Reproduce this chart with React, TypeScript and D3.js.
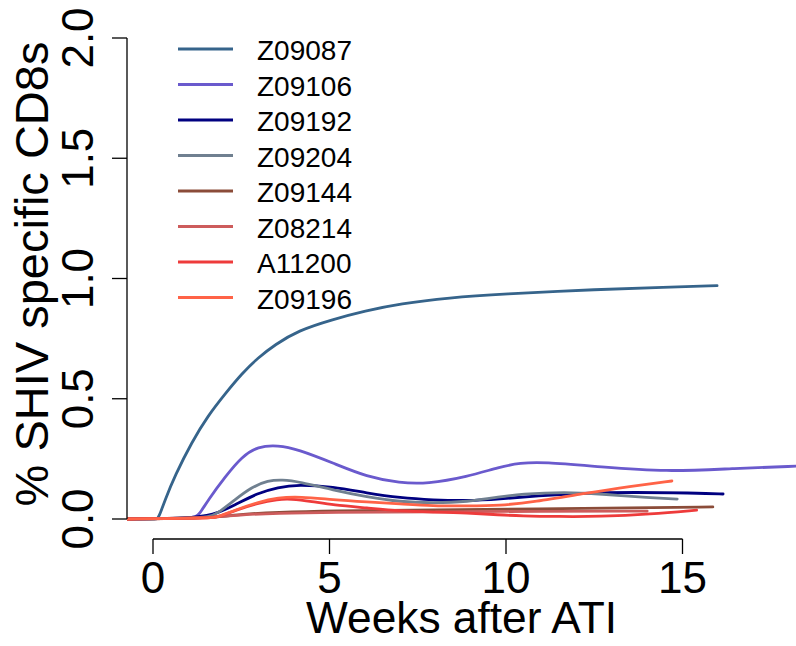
import React from "react";
import * as d3 from "d3";

// ---- Data ----
const seriesNames = ["Z09087", "Z09106", "Z09192", "Z09204", "Z09144", "Z08214", "A11200", "Z09196"];
const seriesColors = ["#36648B", "#6A5ACD", "#000080", "#708090", "#8B4C39", "#CD5C5C", "#EE3B3B", "#FF6347"];

const weeksZ09087 = [-0.75, 0.0, 0.1, 0.16, 0.34, 0.62, 1.1, 1.56, 2.04, 2.52, 2.97, 3.46, 4.1, 5.1, 6.0, 7.0, 8.4, 9.83, 12.66, 14.5, 15.98];
const valsZ09087 = [0, 0, 0, 0.004, 0.079, 0.18, 0.32, 0.43, 0.52, 0.605, 0.67, 0.725, 0.783, 0.83, 0.865, 0.895, 0.92, 0.935, 0.955, 0.964, 0.97];

const weeksZ09106 = [-0.75, 0.5, 1.0, 1.2, 1.3, 1.56, 2.04, 2.52, 2.97, 3.54, 4.1, 5.1, 6.06, 7.0, 7.76, 8.9, 9.83, 10.4, 11.05, 12.66, 14.56, 16.4, 18.3];
const valsZ09106 = [0, 0.002, 0.004, 0.008, 0.016, 0.079, 0.175, 0.26, 0.302, 0.307, 0.29, 0.233, 0.175, 0.15, 0.146, 0.175, 0.217, 0.233, 0.237, 0.217, 0.196, 0.21, 0.22];

const weeksZ09192 = [-0.75, 1.0, 1.7, 2.32, 2.97, 3.54, 4.1, 5.1, 6.06, 7.0, 7.93, 8.9, 9.83, 10.77, 12.66, 15.5, 16.15];
const valsZ09192 = [0, 0.003, 0.015, 0.058, 0.108, 0.132, 0.143, 0.134, 0.108, 0.088, 0.079, 0.075, 0.083, 0.095, 0.113, 0.108, 0.104];

const weeksZ09204 = [-0.75, 1.0, 1.6, 1.84, 2.32, 2.8, 3.26, 3.65, 4.16, 5.1, 6.06, 7.0, 7.93, 8.9, 9.83, 10.4, 11.7, 12.66, 14.08, 14.85];
const valsZ09204 = [0, 0.003, 0.008, 0.024, 0.08, 0.133, 0.16, 0.164, 0.155, 0.12, 0.092, 0.071, 0.067, 0.071, 0.092, 0.104, 0.113, 0.104, 0.088, 0.083];

const weeksZ09144 = [-0.75, 1.0, 1.84, 2.5, 3.5, 5.0, 8.0, 11.0, 13.5, 15.86];
const valsZ09144 = [0, 0.003, 0.008, 0.02, 0.028, 0.034, 0.038, 0.042, 0.047, 0.05];

const weeksZ08214 = [-0.75, 1.0, 1.84, 2.5, 3.5, 5.0, 8.0, 11.0, 14.0];
const valsZ08214 = [0, 0.003, 0.008, 0.018, 0.024, 0.028, 0.03, 0.032, 0.033];

const weeksA11200 = [-0.75, 1.0, 1.6, 1.84, 2.32, 2.97, 3.54, 3.9, 4.5, 5.1, 6.06, 7.0, 7.93, 8.9, 9.83, 10.4, 11.5, 12.66, 14.1, 15.4];
const valsA11200 = [0, 0.003, 0.004, 0.008, 0.035, 0.066, 0.082, 0.084, 0.073, 0.058, 0.046, 0.033, 0.029, 0.025, 0.017, 0.013, 0.01, 0.01, 0.02, 0.037];

const weeksZ09196 = [-0.75, 1.0, 1.6, 1.84, 2.32, 2.97, 3.54, 4.16, 5.1, 6.06, 7.0, 7.93, 8.9, 9.83, 10.77, 12.3, 13.5, 14.7];
const valsZ09196 = [0, 0.003, 0.004, 0.008, 0.037, 0.07, 0.089, 0.093, 0.08, 0.071, 0.063, 0.054, 0.054, 0.056, 0.07, 0.108, 0.135, 0.158];

const seriesWeeks = [weeksZ09087, weeksZ09106, weeksZ09192, weeksZ09204, weeksZ09144, weeksZ08214, weeksA11200, weeksZ09196];
const seriesVals = [valsZ09087, valsZ09106, valsZ09192, valsZ09204, valsZ09144, valsZ08214, valsA11200, valsZ09196];

const xTicks = [0, 5, 10, 15];
const yTicks = [0, 0.5, 1, 1.5, 2];
const yTickLabels = ["0.0", "0.5", "1.0", "1.5", "2.0"];
const xTitle = "Weeks after ATI";
const yTitle = "% SHIV specific CD8s";

export default function App() {
  const W = 796;
  const H = 646;
  const x = d3.scaleLinear().domain([0, 15]).range([153, 682.5]);
  const y = d3.scaleLinear().domain([0, 2]).range([519, 38]);
  const plotLeft = 127;
  const plotTop = 19;
  const plotBottom = 538.5;
  const font = "'Liberation Sans', Arial, Helvetica, sans-serif";

  const line = d3
    .line<[number, number]>()
    .x((d) => x(d[0]))
    .y((d) => y(d[1]))
    .curve(d3.curveBasis);

  const legendX1 = 178;
  const legendX2 = 233;
  const legendY0 = 49;
  const legendStep = 35.5;

  return (
    <svg
      width={W}
      height={H}
      style={{ position: "absolute", left: 0, top: 0, background: "#fff" }}
      fontFamily={font}
    >
      <defs>
        <clipPath id="plotClip">
          <rect x={plotLeft} y={plotTop} width={W - plotLeft} height={plotBottom - plotTop} />
        </clipPath>
      </defs>
      <rect x={0} y={0} width={W} height={H} fill="#fff" />

      {/* series */}
      <g clipPath="url(#plotClip)">
        {seriesNames.map((name, i) => {
          const pts: [number, number][] = seriesWeeks[i].map((w, j) => [w, seriesVals[i][j]]);
          return (
            <path
              key={name}
              d={line(pts) || ""}
              fill="none"
              stroke={seriesColors[i]}
              strokeWidth={2.8}
              strokeLinecap="round"
              strokeLinejoin="round"
            />
          );
        })}
      </g>

      {/* y axis */}
      <line x1={plotLeft} x2={plotLeft} y1={y(0)} y2={y(2)} stroke="#000" strokeWidth={1.3} />
      {yTicks.map((t, i) => (
        <g key={t}>
          <line x1={plotLeft - 15} x2={plotLeft} y1={y(t)} y2={y(t)} stroke="#000" strokeWidth={1.3} />
          <text
            transform={`translate(93,${y(t)}) rotate(-90)`}
            textAnchor="middle"
            fontSize={44}
            fill="#000"
          >
            {yTickLabels[i]}
          </text>
        </g>
      ))}

      {/* x axis */}
      <line x1={x(0)} x2={x(15)} y1={539} y2={539} stroke="#000" strokeWidth={1.3} />
      {xTicks.map((t) => (
        <g key={t}>
          <line x1={x(t)} x2={x(t)} y1={539} y2={554} stroke="#000" strokeWidth={1.3} />
          <text x={x(t)} y={593} textAnchor="middle" fontSize={44} fill="#000">
            {t}
          </text>
        </g>
      ))}

      {/* titles */}
      <text x={461.5} y={633} textAnchor="middle" fontSize={44.3} fill="#000">
        {xTitle}
      </text>
      <text
        transform={`translate(48,274) rotate(-90)`}
        textAnchor="middle"
        fontSize={47}
        fill="#000"
      >
        {yTitle}
      </text>

      {/* legend */}
      {seriesNames.map((name, i) => {
        const ly = legendY0 + i * legendStep;
        return (
          <g key={name}>
            <line x1={legendX1} x2={legendX2} y1={ly} y2={ly} stroke={seriesColors[i]} strokeWidth={2.8} />
            <text x={257} y={ly + 11} fontSize={28} fill="#000">
              {name}
            </text>
          </g>
        );
      })}
    </svg>
  );
}
